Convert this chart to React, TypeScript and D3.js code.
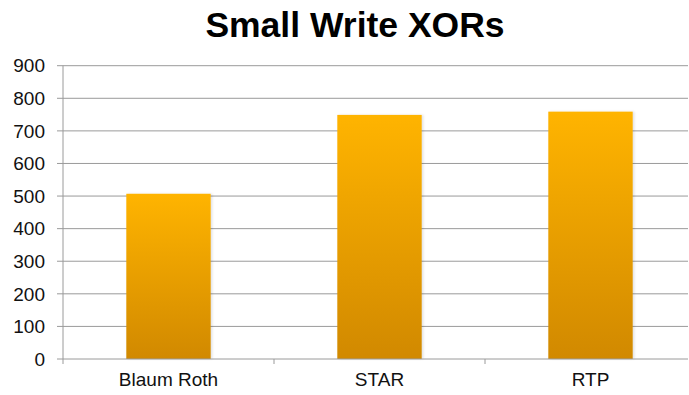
import React from "react";
import * as d3 from "d3";

const categories = ["Blaum Roth", "STAR", "RTP"];
const values = [507, 749, 759];
const yTicks = [0, 100, 200, 300, 400, 500, 600, 700, 800, 900];
const title = "Small Write XORs";

const W = 689;
const H = 395;
const left = 63;
const right = 696;
const top = 65.7;
const bottom = 359;

export default function App() {
  const x = d3
    .scaleBand<string>()
    .domain(categories)
    .range([left, right])
    .paddingInner(0.6)
    .paddingOuter(0.3);
  const y = d3.scaleLinear().domain([0, 900]).range([bottom, top]);
  const step = x.step();
  const font = "'Liberation Sans', Arial, sans-serif";

  return (
    <svg
      width={W}
      height={H}
      style={{ position: "absolute", left: 0, top: 0, background: "#fff" }}
    >
      <defs>
        <linearGradient id="barGrad" x1="0" y1="0" x2="0" y2="1">
          <stop offset="0%" stopColor="#FFB400" />
          <stop offset="100%" stopColor="#D18900" />
        </linearGradient>
        <filter id="shadow" x="-10%" y="-10%" width="130%" height="120%">
          <feDropShadow dx="1.5" dy="0" stdDeviation="1.2" floodColor="#000" floodOpacity="0.12" />
        </filter>
      </defs>
      <text
        x={355}
        y={36.7}
        textAnchor="middle"
        fontFamily={font}
        fontWeight="bold"
        fontSize={35.5}
        fill="#000"
      >
        {title}
      </text>
      {yTicks.map((t) => (
        <g key={t}>
          {t > 0 && (
            <line x1={left} x2={688} y1={y(t)} y2={y(t)} stroke="#9a9a9a" strokeWidth={1} />
          )}
          <line x1={57} x2={left} y1={y(t)} y2={y(t)} stroke="#9a9a9a" strokeWidth={1} />
          <text
            x={45}
            y={y(t) + 6.7}
            textAnchor="end"
            fontFamily={font}
            fontSize={19}
            fill="#111"
          >
            {t}
          </text>
        </g>
      ))}
      {categories.map((c, i) => (
        <g key={c}>
          <rect
            x={x(c)!}
            y={y(values[i])}
            width={x.bandwidth()}
            height={bottom - y(values[i])}
            fill="url(#barGrad)"
            filter="url(#shadow)"
          />
          <text
            x={x(c)! + x.bandwidth() / 2}
            y={386}
            textAnchor="middle"
            fontFamily={font}
            fontSize={19}
            fill="#111"
          >
            {c}
          </text>
        </g>
      ))}
      <line x1={left} x2={688} y1={bottom} y2={bottom} stroke="#9a9a9a" strokeWidth={1} />
      <line x1={left} x2={left} y1={top} y2={bottom + 5} stroke="#9a9a9a" strokeWidth={1} />
      {categories.map((c, i) => (
        <line
          key={"t" + c}
          x1={left + step * (i + 1)}
          x2={left + step * (i + 1)}
          y1={bottom}
          y2={bottom + 5}
          stroke="#9a9a9a"
          strokeWidth={1}
        />
      ))}
    </svg>
  );
}
